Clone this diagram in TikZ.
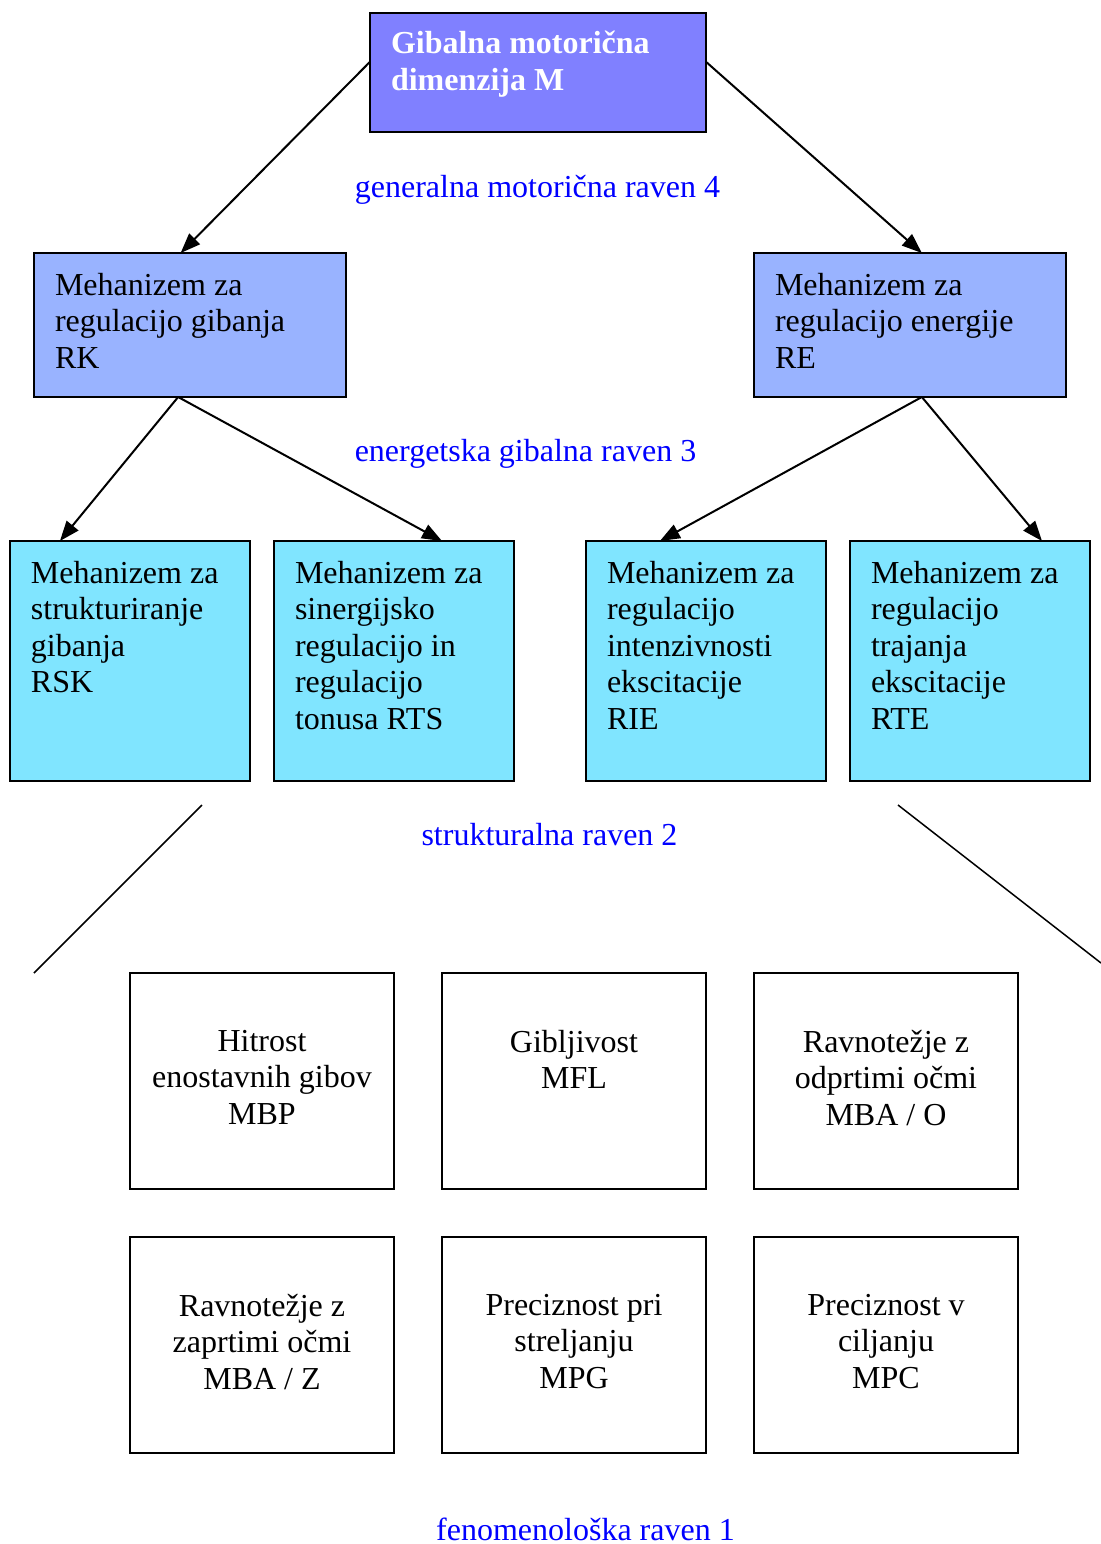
\documentclass[tikz,border=0pt]{standalone}
\usepackage{fontspec}
\setmainfont{Liberation Serif}
\usetikzlibrary{arrows.meta,calc}
\definecolor{topfill}{RGB}{128,128,255}
\definecolor{midfill}{RGB}{153,179,255}
\definecolor{lowfill}{RGB}{128,229,255}
\definecolor{levelblue}{RGB}{0,0,255}
% fixed-size text block, first line at the top
\newcommand\panetext[3]{\parbox[c][#2][t]{#1}{\raggedright #3}}
\newcommand\panecentre[3]{\parbox[c][#2][t]{#1}{\centering #3}}
\begin{document}
\begin{tikzpicture}[x=0.5pt,y=-0.5pt,
  every node/.style={font=\fontsize{16}{18.25}\selectfont},
  box/.style={draw=black, line width=1pt, anchor=north west,
    inner xsep=10.5pt, inner ysep=10pt, outer sep=0pt},
  topbox/.style={box, fill=topfill, inner ysep=9pt, text=white,
    font=\fontsize{16}{18.25}\selectfont\bfseries},
  midbox/.style={box, fill=midfill},
  lowbox/.style={box, fill=lowfill},
  plainbox/.style={box, inner xsep=5pt, inner ysep=28.5pt},
  level/.style={text=levelblue, anchor=base, inner sep=0pt},
  arr/.style={line width=1pt, -{Triangle[length=10pt,width=7.5pt]}},
  slant/.style={line width=0.75pt}
]
\useasboundingbox (0,0) rectangle (1101,1544);

% level 4
\node[topbox] (gm) at (370,13)
  {\panetext{147pt}{41.5pt}{Gibalna motorična\\dimenzija M}};
\node[level] (l4) at (537.5,197) {generalna motorična raven 4};

% level 3
\node[midbox] (rk) at (34,253)
  {\panetext{135pt}{52pt}{Mehanizem za\\regulacijo gibanja\\RK}};
\node[midbox] (re) at (754,253)
  {\panetext{135pt}{52pt}{Mehanizem za\\regulacijo energije\\RE}};
\node[level] (l3) at (525.5,461) {energetska gibalna raven 3};

% level 2
\node[lowbox] (rsk) at (10,541)
  {\panetext{99pt}{100pt}{Mehanizem za\\strukturiranje\\gibanja\\RSK}};
\node[lowbox] (rts) at (274,541)
  {\panetext{99pt}{100pt}{Mehanizem za\\sinergijsko\\regulacijo in\\regulacijo\\tonusa RTS}};
\node[lowbox] (rie) at (586,541)
  {\panetext{99pt}{100pt}{Mehanizem za\\regulacijo\\intenzivnosti\\ekscitacije\\RIE}};
\node[lowbox] (rte) at (850,541)
  {\panetext{99pt}{100pt}{Mehanizem za\\regulacijo\\trajanja\\ekscitacije\\RTE}};
\node[level] (l2) at (549.5,845) {strukturalna raven 2};

% level 1
\node[plainbox] (mbp) at (130,973)
  {\panecentre{122pt}{51pt}{Hitrost\\enostavnih gibov\\MBP}};
\node[plainbox] (mfl) at (442,973)
  {\panecentre{122pt}{51pt}{Gibljivost\\MFL}};
\node[plainbox] (mbao) at (754,973)
  {\panecentre{122pt}{51pt}{Ravnotežje z\\odprtimi očmi\\MBA / O}};
\node[plainbox] (mbaz) at (130,1237)
  {\panecentre{122pt}{51pt}{Ravnotežje z\\zaprtimi očmi\\MBA / Z}};
\node[plainbox] (mpg) at (442,1237)
  {\panecentre{122pt}{51pt}{Preciznost pri\\streljanju\\MPG}};
\node[plainbox] (mpc) at (754,1237)
  {\panecentre{122pt}{51pt}{Preciznost v\\ciljanju\\MPC}};
\node[level] (l1) at (585.5,1540) {fenomenološka raven 1};

% connectors
\draw[arr] ($(gm.north west)!0.41!(gm.south west)$) -- ($(rk.north west)!0.47!(rk.north east)$);
\draw[arr] ($(gm.north east)!0.41!(gm.south east)$) -- ($(re.north west)!0.538!(re.north east)$);
\draw[arr] ($(rk.south west)!0.462!(rk.south east)$) -- ($(rsk.north west)!0.208!(rsk.north east)$);
\draw[arr] ($(rk.south west)!0.462!(rk.south east)$) -- ($(rts.north west)!0.7!(rts.north east)$);
\draw[arr] ($(re.south west)!0.538!(re.south east)$) -- ($(rie.north west)!0.308!(rie.north east)$);
\draw[arr] ($(re.south west)!0.538!(re.south east)$) -- ($(rte.north west)!0.8!(rte.north east)$);

% open lines towards the lowest level
\coordinate (la) at (202,805);
\coordinate (lb) at (34,973);
\coordinate (ra) at (898,805);
\coordinate (rb) at (1101,963);
\draw[slant] (la) -- (lb);
\draw[slant] (ra) -- (rb);
\end{tikzpicture}
\end{document}
